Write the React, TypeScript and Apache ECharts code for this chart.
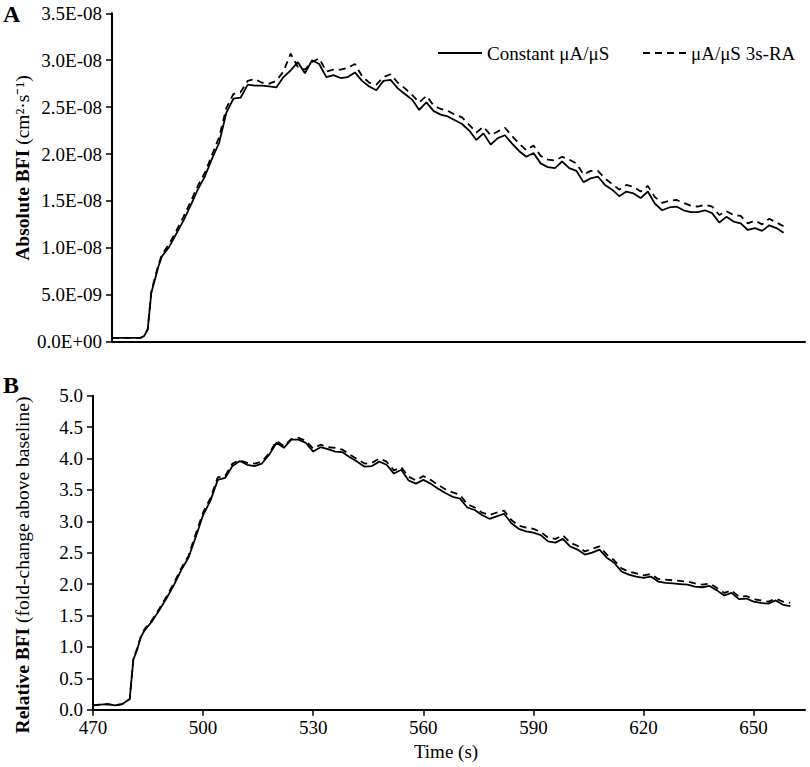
import React, { useEffect, useRef } from "react";
import * as echarts from "echarts";

const times = [470,472,474,476,478,479,480,481,482,483,484,486,488,490,492,494,496,498,500,502,504,506,508,510,512,514,516,518,520,522,524,526,528,530,532,534,536,538,540,542,544,546,548,550,552,554,556,558,560,562,564,566,568,570,572,574,576,578,580,582,584,586,588,590,592,594,596,598,600,602,604,606,608,610,612,614,616,618,620,622,624,626,628,630,632,634,636,638,640,642,644,646,648,650,652,654,656,658,660];

// Absolute BFI, in units of 1e-9 cm^2/s
const absSolid = [
  0.4,0.4,0.4,0.4,0.4,0.6,1.3,5.2,6.6,8.0,9.1,
  10.1,11.5,12.9,14.5,16.2,17.6,19.5,21.2,
  24.4,25.9,26.0,27.4,27.3,27.3,27.2,27.1,28.2,28.9,
  29.8,28.6,30.0,29.6,28.2,28.4,28.1,28.2,28.7,27.8,
  27.2,26.8,27.8,27.9,27.0,26.4,25.8,24.7,25.5,24.6,
  24.2,24.0,23.6,23.2,22.5,21.5,22.2,21.0,21.7,22.0,
  21.1,20.3,19.7,20.1,19.0,18.6,18.5,19.2,18.5,18.2,
  17.0,17.4,17.6,16.7,16.2,15.5,16.0,15.8,15.3,16.0,
  14.7,14.0,14.3,14.4,14.0,13.8,13.8,14.0,13.7,12.7,
  13.3,12.8,12.6,11.9,12.1,11.8,12.4,12.1,11.6
];
const absDashed = [
  0.4,0.4,0.4,0.4,0.4,0.6,1.3,5.3,6.8,8.2,9.3,
  10.4,11.8,13.3,14.9,16.6,18.0,19.9,21.8,
  24.9,26.4,26.6,27.8,28.0,27.6,27.5,27.8,28.8,30.7,
  29.3,29.0,29.8,30.2,28.8,29.0,29.0,29.2,29.6,28.3,
  27.6,27.4,28.2,28.5,27.6,27.0,26.3,25.5,26.2,25.2,
  24.8,24.6,24.2,23.9,23.1,22.3,22.9,22.0,22.4,22.8,
  21.9,21.1,20.4,20.9,19.8,19.4,19.3,19.7,19.4,19.0,
  17.8,18.2,18.2,17.4,16.8,16.2,16.7,16.5,16.0,16.6,
  15.4,14.8,15.0,15.1,14.8,14.5,14.4,14.6,14.4,13.5,
  13.9,13.5,13.4,12.6,12.9,12.5,13.1,12.7,12.3
];
// Relative BFI (fold-change above baseline)
const relSolid = [
  0.07,0.08,0.09,0.07,0.09,0.13,0.17,0.80,0.95,1.15,1.26,
  1.40,1.58,1.77,1.98,2.22,2.42,2.75,3.10,
  3.33,3.66,3.69,3.88,3.96,3.90,3.88,3.92,4.06,4.25,
  4.17,4.30,4.30,4.25,4.11,4.18,4.15,4.11,4.10,4.02,
  3.95,3.87,3.88,3.95,3.90,3.76,3.82,3.65,3.60,3.66,
  3.60,3.52,3.45,3.39,3.36,3.22,3.18,3.10,3.04,3.08,
  3.12,2.97,2.88,2.84,2.82,2.78,2.68,2.66,2.72,2.60,
  2.55,2.47,2.50,2.55,2.42,2.34,2.20,2.15,2.12,2.10,
  2.12,2.04,2.02,2.01,2.00,1.99,1.96,1.95,1.97,1.90,
  1.82,1.86,1.76,1.77,1.72,1.70,1.69,1.74,1.67,1.65
];
const relDashed = [
  0.07,0.08,0.09,0.07,0.09,0.13,0.17,0.82,0.97,1.16,1.28,
  1.42,1.60,1.80,2.01,2.25,2.45,2.80,3.14,
  3.37,3.70,3.72,3.92,3.97,3.93,3.92,3.95,4.08,4.28,
  4.20,4.31,4.33,4.28,4.16,4.22,4.18,4.17,4.14,4.06,
  3.99,3.92,3.93,4.00,3.95,3.81,3.86,3.71,3.65,3.72,
  3.66,3.58,3.51,3.46,3.42,3.27,3.22,3.14,3.10,3.14,
  3.17,3.02,2.93,2.90,2.88,2.83,2.74,2.72,2.78,2.66,
  2.61,2.52,2.56,2.60,2.47,2.38,2.25,2.20,2.17,2.14,
  2.16,2.08,2.07,2.06,2.05,2.04,2.01,1.99,2.01,1.94,
  1.86,1.90,1.80,1.81,1.76,1.74,1.72,1.77,1.72,1.70
];
const xTicks = [470, 500, 530, 560, 590, 620, 650];
const seriesNames = ["Constant μA/μS", "μA/μS 3s-RA"];

const FONT = "Liberation Serif";

function fmtExp(v: number): string {
  if (Math.abs(v) < 1e-20) return "0.0E+00";
  const s = v.toExponential(1);
  const [m, e] = s.split("e");
  const n = parseInt(e, 10);
  return m + "E" + (n < 0 ? "-" : "+") + String(Math.abs(n)).padStart(2, "0");
}

export default function App() {
  const ref = useRef<HTMLDivElement>(null);
  useEffect(() => {
    if (!ref.current) return;
    const chart = echarts.init(ref.current, null, { renderer: "svg" });
    const pair = (vals: number[], k: number) => vals.map((v, i) => [times[i], v * k]);
    const axisLine = { show: true, lineStyle: { color: "#000", width: 2 } };
    const labelStyle = { color: "#000", fontFamily: FONT, fontSize: 19 };
    const lineSolid = { color: "#000", width: 1.8, type: "solid" as const };
    const lineDashed = { color: "#000", width: 1.8, type: [7, 5] as any };
    chart.setOption({
      animation: false,
      backgroundColor: "#fff",
      grid: [
        { left: 112, right: 5, top: 13.3, bottom: 425.4 },
        { left: 93, right: 5, top: 395.7, bottom: 57.3 },
      ],
      xAxis: [
        {
          gridIndex: 0, type: "value", min: 470, max: 664,
          axisLine, axisTick: { show: false }, axisLabel: { show: false }, splitLine: { show: false },
        },
        {
          gridIndex: 1, type: "value", min: 470, max: 664,
          axisLine,
          axisTick: { show: true, length: 6, lineStyle: { color: "#000", width: 1.5 }, customValues: xTicks },
          axisLabel: { ...labelStyle, margin: 8, customValues: xTicks },
          splitLine: { show: false },
        },
      ],
      yAxis: [
        {
          gridIndex: 0, type: "value", min: 0, max: 3.5e-8, interval: 5e-9,
          axisLine, axisTick: { show: true, length: 6, lineStyle: { color: "#000", width: 1.5 } },
          axisLabel: { ...labelStyle, margin: 10, formatter: (v: number) => fmtExp(v) },
          splitLine: { show: false },
        },
        {
          gridIndex: 1, type: "value", min: 0, max: 5, interval: 0.5,
          axisLine, axisTick: { show: true, length: 6, lineStyle: { color: "#000", width: 1.5 } },
          axisLabel: { ...labelStyle, margin: 10, formatter: (v: number) => v.toFixed(1) },
          splitLine: { show: false },
        },
      ],
      series: [
        { name: seriesNames[0], type: "line", xAxisIndex: 0, yAxisIndex: 0, data: pair(absSolid, 1e-9), symbol: "none", lineStyle: lineSolid, itemStyle: { color: "#000" } },
        { name: seriesNames[1], type: "line", xAxisIndex: 0, yAxisIndex: 0, data: pair(absDashed, 1e-9), symbol: "none", lineStyle: lineDashed, itemStyle: { color: "#000" } },
        { name: seriesNames[0], type: "line", xAxisIndex: 1, yAxisIndex: 1, data: pair(relSolid, 1), symbol: "none", lineStyle: lineSolid, itemStyle: { color: "#000" } },
        { name: seriesNames[1], type: "line", xAxisIndex: 1, yAxisIndex: 1, data: pair(relDashed, 1), symbol: "none", lineStyle: lineDashed, itemStyle: { color: "#000" } },
      ],
      graphic: [
        { type: "text", left: 3, top: 2, style: { text: "A", fontFamily: FONT, fontSize: 24, fontWeight: "bold", fill: "#000" } },
        { type: "text", left: 3, top: 373, style: { text: "B", fontFamily: FONT, fontSize: 24, fontWeight: "bold", fill: "#000" } },
        {
          type: "text", x: 22, y: 168, rotation: Math.PI / 2,
          style: {
            text: "{b|Absolute BFI} (cm²·s⁻¹)",
            fontFamily: FONT, fontSize: 19.5, fill: "#000", align: "center", verticalAlign: "middle",
            rich: { b: { fontFamily: FONT, fontSize: 19.5, fontWeight: "bold", fill: "#000" } },
          },
        },
        {
          type: "text", x: 22, y: 565, rotation: Math.PI / 2,
          style: {
            text: "{b|Relative BFI} (fold-change above baseline)",
            fontFamily: FONT, fontSize: 19.5, fill: "#000", align: "center", verticalAlign: "middle",
            rich: { b: { fontFamily: FONT, fontSize: 19.5, fontWeight: "bold", fill: "#000" } },
          },
        },
        {
          type: "text", x: 446, y: 751,
          style: { text: "Time (s)", fontFamily: FONT, fontSize: 19, fill: "#000", align: "center", verticalAlign: "middle" },
        },
        // legend
        { type: "line", shape: { x1: 438, y1: 53, x2: 482, y2: 53 }, style: { stroke: "#000", lineWidth: 2 } },
        {
          type: "text", x: 487, y: 53,
          style: { text: seriesNames[0], fontFamily: FONT, fontSize: 19, fill: "#000", align: "left", verticalAlign: "middle" },
        },
        { type: "line", shape: { x1: 643, y1: 53, x2: 687, y2: 53 }, style: { stroke: "#000", lineWidth: 2, lineDash: [7, 5] } },
        {
          type: "text", x: 691, y: 53,
          style: { text: seriesNames[1], fontFamily: FONT, fontSize: 19, fill: "#000", align: "left", verticalAlign: "middle" },
        },
      ],
    });
    return () => chart.dispose();
  }, []);
  return (
    <div
      ref={ref}
      style={{ position: "fixed", left: 0, top: 0, width: 810, height: 767, background: "#fff" }}
    />
  );
}
